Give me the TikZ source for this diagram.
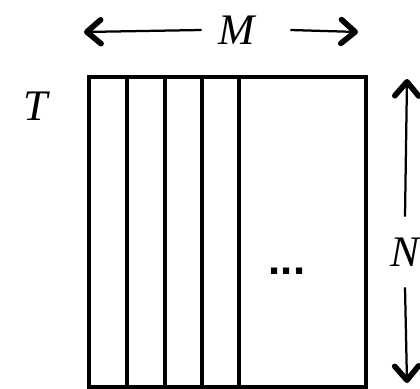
\documentclass[tikz,border=0pt]{standalone}
\usepackage{fontspec}
\setmainfont{Liberation Serif}
\newfontfamily\lblfont{Liberation Serif Italic}
\newfontfamily\dotsfont{Liberation Sans}
\usetikzlibrary{arrows.meta,positioning}

\begin{document}
\begin{tikzpicture}[x=0.025cm,y=-0.025cm,
    lbl/.style={fill=white,font=\lblfont\fontsize{31}{34}\selectfont},
    dimarrow/.style={line width=1.6pt,-{Straight Barb[length=10pt,width=17pt,line width=4pt,round]}}]
  \useasboundingbox[fill=white] (0,0) rectangle (420,388);
  \coordinate (ML) at (84,32);
  \coordinate (MR) at (358,32);
  \coordinate (NT) at (407,79);
  \coordinate (NB) at (407,383);

  % matrix of columns
  \draw[line width=2.2pt] (89,77) rectangle (366,387);
  \foreach \x in {127,165,202,239}
    \draw[line width=2.2pt] (\x,77) -- (\x,387);

  \node[lbl,minimum width=1.75cm,minimum height=1.5cm] (M) at (237,30) {M};
  \node[lbl,minimum height=1.75cm,inner xsep=0pt] (N) at (405,252) {N};
  \node[font=\lblfont\fontsize{31}{34}\selectfont] (T) at (36,106) {T};
  \node[font=\dotsfont\bfseries\fontsize{31}{34}\selectfont] (dots) at (287,271) {...};

  \draw[dimarrow] (M.west) -- (ML);
  \draw[dimarrow] ([xshift=0.45cm]M.east) -- (MR);
  \draw[dimarrow] (N.north) -- (NT);
  \draw[dimarrow] (N.south) -- (NB);
\end{tikzpicture}
\end{document}
